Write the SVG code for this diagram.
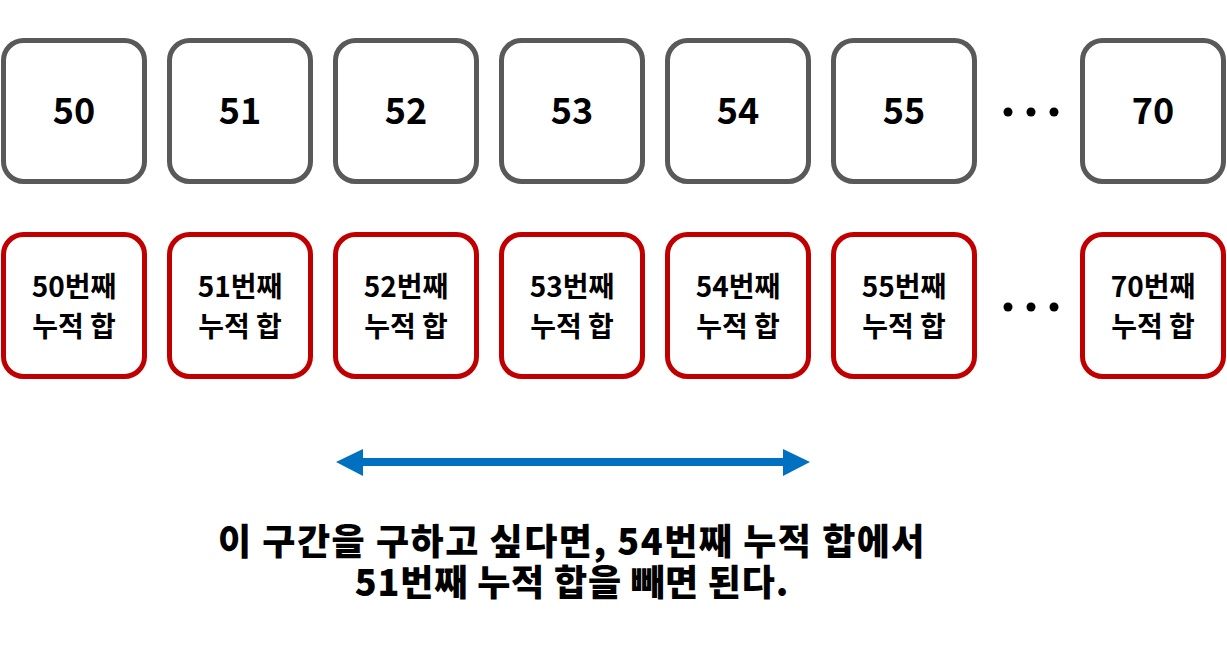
<svg xmlns="http://www.w3.org/2000/svg" width="1227" height="645" viewBox="0 0 1227 645">
<style>
.gb{fill:#fff;stroke:#595959;stroke-width:5}
.rb{fill:#fff;stroke:#C00000;stroke-width:5}
.n{font-family:"Noto Sans CJK KR","Noto Sans",sans-serif;font-weight:700;font-size:36px;text-anchor:middle;fill:#000}
.s{font-family:"Noto Sans CJK KR","Noto Sans",sans-serif;font-weight:700;font-size:28px;text-anchor:middle;fill:#000}
.c{font-family:"Noto Sans CJK KR","Noto Sans",sans-serif;font-weight:900;font-size:36px;text-anchor:middle;fill:#000}
.d{fill:#000}
</style>
<g id="v50"><rect class="gb" x="3.5" y="40.5" width="141" height="141" rx="20"/><text class="n" x="74" y="124">50</text></g>
<g id="v51"><rect class="gb" x="169.5" y="40.5" width="141" height="141" rx="20"/><text class="n" x="240" y="124">51</text></g>
<g id="v52"><rect class="gb" x="335.5" y="40.5" width="141" height="141" rx="20"/><text class="n" x="406" y="124">52</text></g>
<g id="v53"><rect class="gb" x="501.5" y="40.5" width="141" height="141" rx="20"/><text class="n" x="572" y="124">53</text></g>
<g id="v54"><rect class="gb" x="667.5" y="40.5" width="141" height="141" rx="20"/><text class="n" x="738" y="124">54</text></g>
<g id="v55"><rect class="gb" x="833.5" y="40.5" width="141" height="141" rx="20"/><text class="n" x="904" y="124">55</text></g>
<g id="v70"><rect class="gb" x="1082.5" y="40.5" width="141" height="141" rx="20"/><text class="n" x="1153" y="124">70</text></g>
<g id="dots1"><circle class="d" cx="1008" cy="112" r="4.5"/><circle class="d" cx="1031" cy="112" r="4.5"/><circle class="d" cx="1054" cy="112" r="4.5"/></g>

<g id="p50"><rect class="rb" x="3.5" y="234.5" width="141" height="142" rx="20"/><text class="s" x="74" y="297">50번째</text><text class="s" x="74" y="337">누적 합</text></g>
<g id="p51"><rect class="rb" x="169.5" y="234.5" width="141" height="142" rx="20"/><text class="s" x="240" y="297">51번째</text><text class="s" x="240" y="337">누적 합</text></g>
<g id="p52"><rect class="rb" x="335.5" y="234.5" width="141" height="142" rx="20"/><text class="s" x="406" y="297">52번째</text><text class="s" x="406" y="337">누적 합</text></g>
<g id="p53"><rect class="rb" x="501.5" y="234.5" width="141" height="142" rx="20"/><text class="s" x="572" y="297">53번째</text><text class="s" x="572" y="337">누적 합</text></g>
<g id="p54"><rect class="rb" x="667.5" y="234.5" width="141" height="142" rx="20"/><text class="s" x="738" y="297">54번째</text><text class="s" x="738" y="337">누적 합</text></g>
<g id="p55"><rect class="rb" x="833.5" y="234.5" width="141" height="142" rx="20"/><text class="s" x="904" y="297">55번째</text><text class="s" x="904" y="337">누적 합</text></g>
<g id="p70"><rect class="rb" x="1082.5" y="234.5" width="141" height="142" rx="20"/><text class="s" x="1153" y="297">70번째</text><text class="s" x="1153" y="337">누적 합</text></g>
<g id="dots2"><circle class="d" cx="1008" cy="307" r="4.5"/><circle class="d" cx="1031" cy="307" r="4.5"/><circle class="d" cx="1054" cy="307" r="4.5"/></g>

<g id="connectors">
<line x1="363" y1="462" x2="783" y2="462" stroke="#0070C0" stroke-width="8"/>
<path d="M336,462 L363,449 L363,476 Z" fill="#0070C0"/>
<path d="M810,462 L783,449 L783,476 Z" fill="#0070C0"/>
</g>

<g id="caption">
<text class="c" x="572" y="555" letter-spacing="1.5">이 구간을 구하고 싶다면, 54번째 누적 합에서</text>
<text class="c" x="572" y="596" letter-spacing="0.8">51번째 누적 합을 빼면 된다.</text>
</g>
</svg>
